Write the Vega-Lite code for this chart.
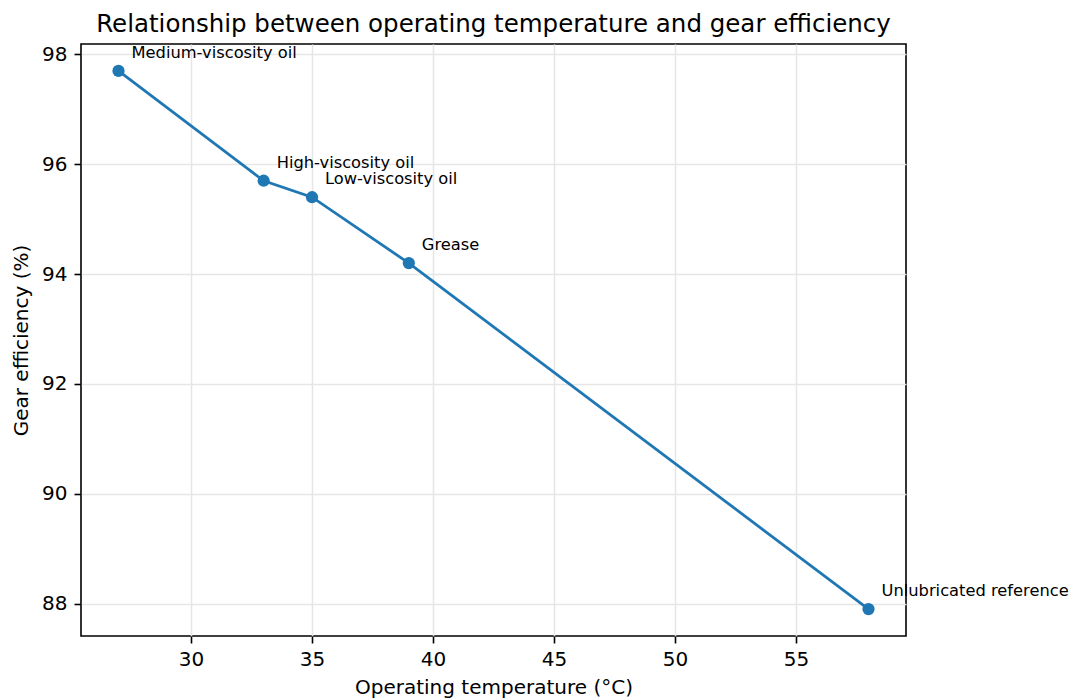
{
  "$schema": "https://vega.github.io/schema/vega-lite/v6.json",
  "width": 825,
  "height": 592,
  "autosize": {"type": "none"},
  "padding": {"left": 81, "top": 44, "right": 168, "bottom": 63},
  "background": "white",
  "config": {
    "font": "DejaVu Sans",
    "view": {"stroke": "black", "strokeWidth": 1.6},
    "axis": {
      "labelFont": "DejaVu Sans",
      "titleFont": "DejaVu Sans",
      "labelFontSize": 20,
      "titleFontSize": 20,
      "titleFontWeight": "normal",
      "labelColor": "black",
      "titleColor": "black",
      "tickColor": "black",
      "tickSize": 7,
      "tickWidth": 1.6,
      "domain": false,
      "gridColor": "#e6e6e6",
      "gridWidth": 1.5
    }
  },
  "title": {
    "text": "Relationship between operating temperature and gear efficiency",
    "fontSize": 24.5,
    "fontWeight": "normal",
    "font": "DejaVu Sans",
    "offset": 7,
    "color": "black"
  },
  "data": {
    "values": [
      {"temp": 27, "eff": 97.7, "label": "Medium-viscosity oil"},
      {"temp": 33, "eff": 95.7, "label": "High-viscosity oil"},
      {"temp": 35, "eff": 95.4, "label": "Low-viscosity oil"},
      {"temp": 39, "eff": 94.2, "label": "Grease"},
      {"temp": 58, "eff": 87.9, "label": "Unlubricated reference"}
    ]
  },
  "encoding": {
    "x": {
      "field": "temp",
      "type": "quantitative",
      "scale": {"domain": [25.45, 59.55], "nice": false, "zero": false},
      "axis": {"values": [30, 35, 40, 45, 50, 55], "title": "Operating temperature (°C)", "labelPadding": 6, "titlePadding": 8}
    },
    "y": {
      "field": "eff",
      "type": "quantitative",
      "scale": {"domain": [87.41, 98.19], "nice": false, "zero": false},
      "axis": {"values": [88, 90, 92, 94, 96, 98], "title": "Gear efficiency (%)", "labelPadding": 7, "titlePadding": 10}
    }
  },
  "layer": [
    {"mark": {"type": "line", "color": "#1f77b4", "strokeWidth": 2.8}},
    {"mark": {"type": "point", "filled": true, "opacity": 1, "color": "#1f77b4", "size": 150}},
    {
      "mark": {"type": "text", "align": "left", "baseline": "alphabetic", "dx": 13, "dy": -13, "fontSize": 16.3, "color": "black", "clip": false},
      "encoding": {"text": {"field": "label"}}
    }
  ]
}
